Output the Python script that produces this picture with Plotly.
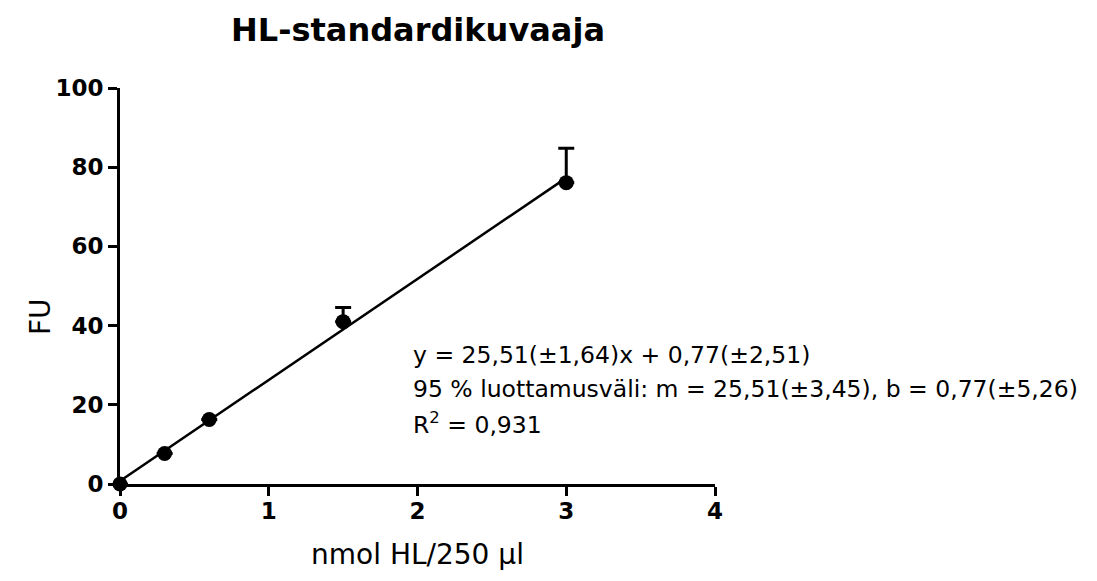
import plotly.graph_objects as go

# Data
conc = [0, 0.3, 0.6, 1.5, 3.0]          # nmol HL/250 µl
fu = [0.0, 7.7, 16.3, 41.0, 76.1]       # FU
err_up = [0.0, 0.0, 0.0, 3.6, 8.7]      # upper error (SD)
slope = 25.51
intercept = 0.77
fit_x = [0, 3.0]
fit_y = [slope * v + intercept for v in fit_x]

x_ticks = [0, 1, 2, 3, 4]
y_ticks = [0, 20, 40, 60, 80, 100]

title_text = "HL-standardikuvaaja"
x_title = "nmol HL/250 µl"
y_title = "FU"
eq_lines = [
    "y = 25,51(±1,64)x + 0,77(±2,51)",
    "95 % luottamusväli: m = 25,51(±3,45), b = 0,77(±5,26)",
    "R<sup>2</sup> = 0,931",
]

FONT = "DejaVu Sans"
L, R, T, B = 120, 382, 88, 97
W, H = 1097, 581
PW, PH = W - L - R, H - T - B

fig = go.Figure()

fig.add_trace(go.Scatter(
    x=fit_x, y=fit_y, mode="lines",
    line=dict(color="black", width=2.5),
    hoverinfo="skip", showlegend=False, cliponaxis=False,
))

fig.add_trace(go.Scatter(
    x=conc, y=fu, mode="markers",
    marker=dict(color="black", size=15, symbol="circle"),
    error_y=dict(type="data", symmetric=False, array=err_up,
                 arrayminus=[0] * len(err_up),
                 color="black", thickness=3, width=8),
    showlegend=False, cliponaxis=False,
))

axis_common = dict(
    showline=True, linecolor="black", linewidth=3,
    ticks="outside", ticklen=9, tickwidth=3, tickcolor="black",
    showgrid=False, zeroline=False,
    tickfont=dict(family=FONT, size=23, color="black", weight="bold"),
)

fig.update_xaxes(
    range=[0, 4], tickvals=x_ticks, ticktext=[str(t) for t in x_ticks],
    ticklabelstandoff=-5,
    title=dict(text=x_title, font=dict(family=FONT, size=28, color="black"), standoff=22),
    **axis_common,
)
fig.update_yaxes(
    range=[0, 100], tickvals=y_ticks, ticktext=[str(t) for t in y_ticks],
    **axis_common,
)

# y-axis title placed as in the reference (slightly below centre)
fig.add_annotation(
    xref="paper", yref="paper",
    x=(40 - L) / PW, y=(H - B - 317) / PH,
    xanchor="center", yanchor="middle", showarrow=False, textangle=-90,
    text=y_title, font=dict(family=FONT, size=28, color="black"),
)

# regression text, one line per annotation
line_y = [355, 389, 423]
for txt, yy in zip(eq_lines, line_y):
    fig.add_annotation(
        xref="paper", yref="paper", x=(411 - L) / PW, y=(H - B - yy) / PH,
        xanchor="left", yanchor="middle", align="left", showarrow=False,
        text=txt, font=dict(family=FONT, size=23.5, color="black"),
    )

fig.update_layout(
    width=W, height=H,
    margin=dict(l=L, r=R, t=T, b=B),
    paper_bgcolor="white", plot_bgcolor="white",
    title=dict(text=title_text, x=418 / W, xanchor="center",
               y=1 - 30 / H, yanchor="middle",
               font=dict(family=FONT, size=32, color="black", weight="bold")),
)

fig.write_html("out.html")
